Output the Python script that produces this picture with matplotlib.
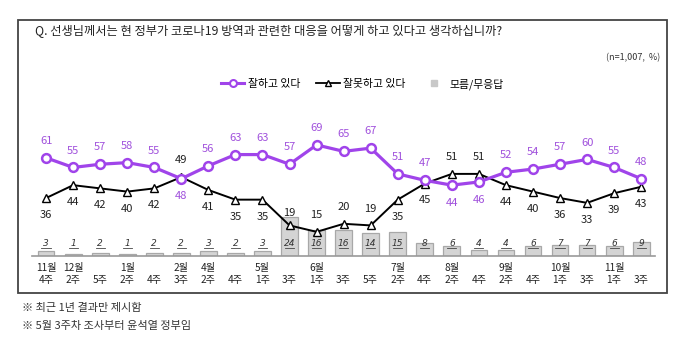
import matplotlib
matplotlib.use('Agg')
import matplotlib.pyplot as plt
from matplotlib.patches import Rectangle
from matplotlib.lines import Line2D
import matplotlib.transforms as mtransforms

plt.rcParams['font.family'] = ['Noto Sans CJK KR', 'DejaVu Sans']

# survey waves
months = ['11월', '12월', '', '1월', '', '2월', '4월', '', '5월', '', '6월', '', '',
          '7월', '', '8월', '', '9월', '', '10월', '', '11월', '']
weeks = ['4주', '2주', '5주', '2주', '4주', '3주', '2주', '4주', '1주', '3주', '1주', '3주', '5주',
         '2주', '4주', '2주', '4주', '2주', '4주', '1주', '3주', '1주', '3주']

good = [61, 55, 57, 58, 55, 48, 56, 63, 63, 57, 69, 65, 67, 51, 47, 44, 46, 52, 54, 57, 60, 55, 48]
bad = [36, 44, 42, 40, 42, 49, 41, 35, 35, 19, 15, 20, 19, 35, 45, 51, 51, 44, 40, 36, 33, 39, 43]
dk = [3, 1, 2, 1, 2, 2, 3, 2, 3, 24, 16, 16, 14, 15, 8, 6, 4, 4, 6, 7, 7, 6, 9]

# which labels go below (good) / above (bad)
good_below = {5, 15, 16}
bad_above = {5, 9, 10, 11, 12, 15, 16}

PURPLE = '#a044ea'
PURPLE_TXT = '#a050dc'

fig = plt.figure(figsize=(6.8, 3.39), dpi=100)
W, H = 680, 339

# outer frame
fig.patches.append(Rectangle((18 / W, 1 - 293 / H), (667 - 18) / W, (293 - 20) / H,
                             transform=fig.transFigure, fill=False, edgecolor='#444444',
                             linewidth=1.3))

fig.text(35 / W, 1 - 32 / H, 'Q. 선생님께서는 현 정부가 코로나19 방역과 관련한 대응을 어떻게 하고 있다고 생각하십니까?',
         fontsize=8.8, va='center', ha='left', color='#222222')
fig.text(660 / W, 1 - 58 / H, '(n=1,007,  %)', fontsize=6.5, va='center', ha='right', color='#333333')

ax = fig.add_axes([32 / W, 1 - 256 / H, (655 - 32) / W, (256 - 100) / H])
x = list(range(len(good)))

ax.bar(x, dk, width=0.62, color='#d4d4d4', edgecolor='#a8a8a8', linewidth=0.9, zorder=1)
ax.plot(x, bad, color='black', linewidth=1.4, marker='^', markersize=6,
        markerfacecolor='white', markeredgecolor='black', markeredgewidth=1.0, zorder=3)
ax.plot(x, good, color=PURPLE, linewidth=2.3, marker='o', markersize=6.3,
        markerfacecolor='white', markeredgecolor=PURPLE, markeredgewidth=1.8, zorder=4)

for i in x:
    if i in good_below:
        ax.text(i, good[i] - 11, str(good[i]), ha='center', va='center', fontsize=8, color=PURPLE_TXT)
    else:
        ax.text(i, good[i] + 10.5, str(good[i]), ha='center', va='center', fontsize=8, color=PURPLE_TXT)
    if i in bad_above:
        off = 7.5 if i == 9 else 10.5
        ax.text(i, bad[i] + off, str(bad[i]), ha='center', va='center', fontsize=8, color='#222222')
    else:
        ax.text(i, bad[i] - 10.5, str(bad[i]), ha='center', va='center', fontsize=8, color='#222222')
    ax.text(i, 7.8, str(dk[i]), ha='center', va='center', fontsize=6.5, style='italic',
            family='DejaVu Sans', color='#333333', zorder=5)
    ax.plot([i - 0.17, i + 0.17], [4.9, 4.9], color='#444444', linewidth=0.6, zorder=5)

ax.set_xlim(-0.52, 22.51)
ax.set_ylim(0, 96.9)
for s in ['top', 'right', 'left']:
    ax.spines[s].set_visible(False)
ax.spines['bottom'].set_color('#999999')
ax.spines['bottom'].set_linewidth(1.2)
ax.set_yticks([])
ax.set_xticks([])

trans = mtransforms.blended_transform_factory(ax.transData, fig.transFigure)
for i in x:
    if months[i]:
        ax.text(i, 1 - 268 / H, months[i], transform=trans, ha='center', va='center',
                fontsize=7.3, color='#222222')
    ax.text(i, 1 - 280 / H, weeks[i], transform=trans, ha='center', va='center',
            fontsize=7.3, color='#222222')

handles = [
    Line2D([], [], color=PURPLE, linewidth=2.2, marker='o', markersize=5,
           markerfacecolor='white', markeredgecolor=PURPLE, markeredgewidth=1.5),
    Line2D([], [], color='black', linewidth=1.3, marker='^', markersize=5,
           markerfacecolor='white', markeredgecolor='black'),
    Line2D([], [], linestyle='none', marker='s', markersize=5, color='#c8c8c8'),
]
fig.legend(handles, ['잘하고 있다', '잘못하고 있다', '모름/무응답'], loc='center',
           bbox_to_anchor=(362 / W, 1 - 84 / H), ncol=3, frameon=False, fontsize=7.8,
           handlelength=2.2, columnspacing=1.5, handletextpad=0.3)

fig.text(22 / W, 1 - 308 / H, '※ 최근 1년 결과만 제시함', fontsize=8, va='center', color='#333333')
fig.text(22 / W, 1 - 326 / H, '※ 5월 3주차 조사부터 윤석열 정부임', fontsize=8, va='center', color='#333333')

plt.savefig('out.png', dpi=100)
